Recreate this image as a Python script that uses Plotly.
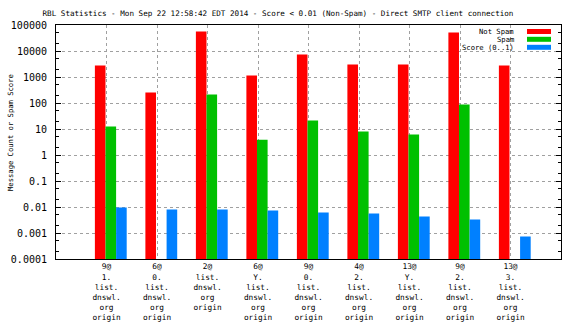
import plotly.graph_objects as go

categories = [
    "9@<br>1.<br>list.<br>dnswl.<br>org<br>origin",
    "6@<br>0.<br>list.<br>dnswl.<br>org<br>origin",
    "2@<br>list.<br>dnswl.<br>org<br>origin",
    "6@<br>Y.<br>list.<br>dnswl.<br>org<br>origin",
    "9@<br>0.<br>list.<br>dnswl.<br>org<br>origin",
    "4@<br>2.<br>list.<br>dnswl.<br>org<br>origin",
    "13@<br>Y.<br>list.<br>dnswl.<br>org<br>origin",
    "9@<br>2.<br>list.<br>dnswl.<br>org<br>origin",
    "13@<br>3.<br>list.<br>dnswl.<br>org<br>origin",
]
positions = [1, 2, 3, 4, 5, 6, 7, 8, 9]
not_spam = [2770, 252, 56000, 1140, 7300, 3030, 3030, 52000, 2770]
spam = [12.5, None, 212, 3.9, 21, 8.0, 6.1, 87, None]
score = [0.0096, 0.008, 0.008, 0.0074, 0.0062, 0.0056, 0.0043, 0.0033, 0.00074]

series_names = ["Not Spam", "Spam", "Score (0..1)"]
series_colors = ["#ff0000", "#00c000", "#0080ff"]
series_offsets = [-0.23, -0.02, 0.19]
ytick_vals = [1e-4, 1e-3, 1e-2, 1e-1, 1, 10, 100, 1000, 10000, 100000]
ytick_text = ["0.0001", "0.001", "0.01", "0.1", "1", "10", "100", "1000", "10000", "100000"]

FONT = "DejaVu Sans Mono"
L, R, T, B = 56, 15, 25, 65
PW, PH = 576 - L - R, 324 - T - B

fig = go.Figure()
for name, vals, col, off in zip(series_names, [not_spam, spam, score], series_colors, series_offsets):
    fig.add_trace(go.Bar(x=positions, y=vals, name=name, marker=dict(color=col, line=dict(width=0)),
                         width=0.21, offset=off, showlegend=False))

fig.update_layout(
    width=576, height=324,
    margin=dict(l=L, r=R, t=T, b=B, autoexpand=False),
    paper_bgcolor="white", plot_bgcolor="white",
    barmode="overlay",
    title=dict(text="RBL Statistics - Mon Sep 22 12:58:42 EDT 2014 - Score < 0.01 (Non-Spam) - Direct SMTP client connection",
               x=278 / 576, xanchor="center", y=1 - 13 / 324, yanchor="middle",
               font=dict(family=FONT, size=7.6, color="black")),
    font=dict(family=FONT, color="black"),
)
fig.update_xaxes(
    range=[0, 10], tickvals=positions, ticktext=categories,
    tickfont=dict(family=FONT, size=7.8, color="black"),
    showgrid=True, gridcolor="#a0a0a0", griddash="3px,3px", gridwidth=1,
    showline=True, linecolor="black", linewidth=1, mirror=True,
    ticks="", zeroline=False, automargin=False,
)
fig.update_yaxes(
    type="log", range=[-4, 5], tickvals=ytick_vals,
    ticktext=[t + "\u00a0" for t in ytick_text],
    tickfont=dict(family=FONT, size=10, color="black"),
    showgrid=True, gridcolor="#a0a0a0", griddash="3px,3px", gridwidth=1,
    showline=True, linecolor="black", linewidth=1, mirror="ticks",
    ticks="inside", ticklen=5, tickcolor="black",
    minor=dict(ticks="inside", ticklen=3, tickcolor="black", dtick="D2", showgrid=False),
    zeroline=False, automargin=False,
)

# y-axis title
fig.add_annotation(text="Message Count or Spam Score", xref="paper", yref="paper",
                   x=(10 - L) / PW, y=1 - (133 - T) / PH, textangle=-90,
                   xanchor="center", yanchor="middle", showarrow=False,
                   font=dict(family=FONT, size=7.2, color="black"))

# legend (gnuplot style: text on the left, swatch on the right)
leg_y = [31.5, 39.3, 47.3]
for name, col, yy in zip(series_names, series_colors, leg_y):
    fig.add_annotation(text=name, xref="paper", yref="paper", x=(515 - L) / PW,
                       y=1 - (yy - T) / PH, xanchor="right", yanchor="middle",
                       showarrow=False, borderpad=0,
                       font=dict(family=FONT, size=7.2, color="black"))
    fig.add_shape(type="rect", xref="paper", yref="paper",
                  x0=(527 - L) / PW, x1=(551 - L) / PW,
                  y0=1 - (yy + 2.5 - T) / PH, y1=1 - (yy - 2.5 - T) / PH,
                  fillcolor=col, line=dict(width=0))

fig.write_html("out.html")
